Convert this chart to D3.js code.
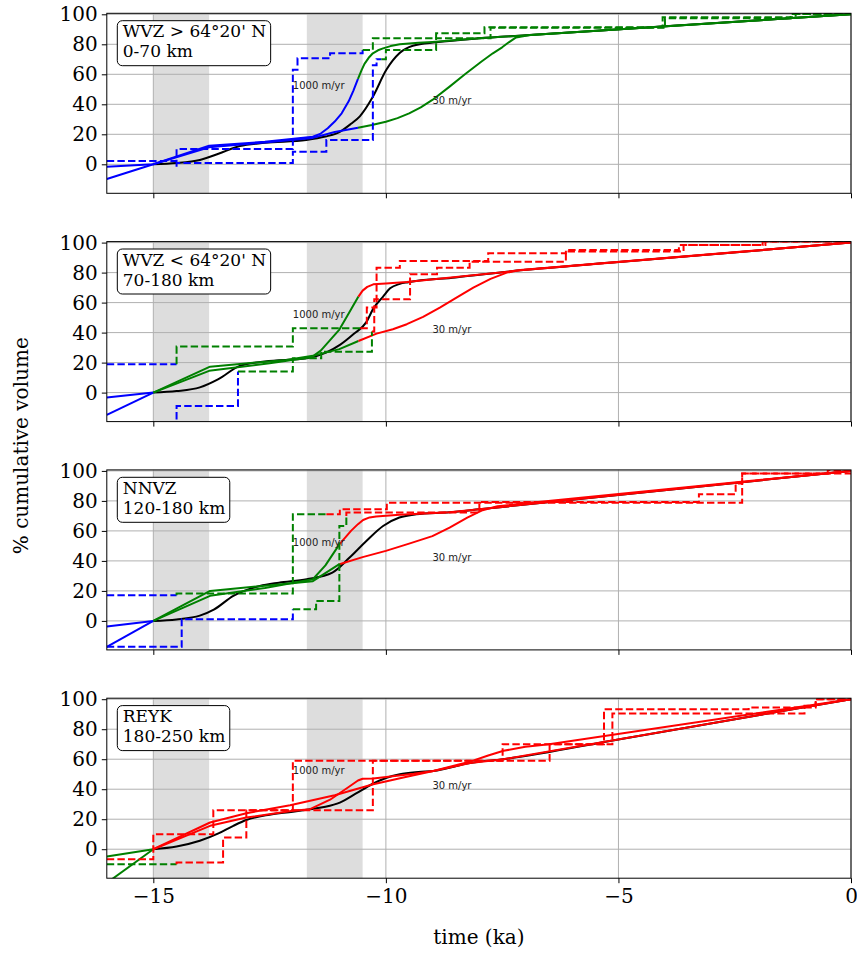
<!DOCTYPE html>
<html>
<head>
<meta charset="utf-8">
<script src="https://cdn.jsdelivr.net/npm/d3@7"></script>
<style>
  body { margin: 0; background: #fff; }
  svg { display: block; }
</style>
</head>
<body>
<svg id="chart" width="857" height="954"></svg>
<script>
// ---- axes ----
const xTickValues = [-15, -10, -5, 0];
const yTickValues = [0, 20, 40, 60, 80, 100];
const timeDomain = [-16, 0];
const volumeDomain = [-19.33, 100.67];
const deglaciationBands = [[-15, -13.8], [-11.7, -10.5]];

// ---- panel titles ----
const panelTitles = [
  ["WVZ > 64°20' N", "0-70 km"],
  ["WVZ < 64°20' N", "70-180 km"],
  ["NNVZ", "120-180 km"],
  ["REYK", "180-250 km"]
];
const rateLabels = ["1000 m/yr", "30 m/yr"];
const rateLabelAnchors = [[-12, 50], [-9, 40]];

// ---- WVZ > 64°20' N ----
const wvzNorthBlack = [[-15,0],[-14.5,0.8],[-14,2.9],[-13.6,7],[-13.14,12.2],[-12.6,14.3],[-11.71,16.2],[-11.3,18.5],[-11.0,21.5],[-10.75,27],[-10.56,32],[-10.28,45],[-9.99,63],[-9.71,74],[-9.42,79],[-8.92,81.3],[-8.0,84],[-7.0,86],[-4.0,92],[0,100]];
const wvzNorthFastBlue = [[-16,-9.8],[-15,0],[-13.8,12.4],[-12.6,15],[-11.57,18.4],[-11.4,20.5],[-11.25,24],[-11.1,28.5],[-10.95,34],[-10.8,42],[-10.7,49],[-10.6,57]];
const wvzNorthFastGreen = [[-10.6,57],[-10.52,63],[-10.46,67],[-10.37,71],[-10.28,74],[-10.17,76],[-10.06,77.3],[-9.9,78.8],[-9.7,80],[-9.3,81],[-9.0,81.6],[-8.0,84],[0,100]];
const wvzNorthSlowBlue = [[-16,-1.6],[-15,0],[-13.8,11.4],[-12.6,14.6],[-11.57,17.6],[-11.1,21.5],[-10.6,24.4]];
const wvzNorthSlowGreen = [[-10.6,24.4],[-10.3,26.2],[-10.0,28.4],[-9.75,30.8],[-9.5,34],[-9.25,38],[-9.0,42.9],[-8.63,51.8],[-8.3,60],[-7.95,68.4],[-7.7,74],[-7.5,78],[-7.35,81.5],[-7.2,84.6],[-6.9,86.2],[0,100]];
const wvzNorthStepABlue = [[-16,2.2],[-14.5,10.2],[-12.0,63],[-11.9,70.7],[-11.2,74],[-10.5,76.2]];
const wvzNorthStepAGreen = [[-10.5,76.2],[-10.28,84],[-8.92,87.3],[-7.88,91.3],[-4.05,98],[-1.19,100.2],[0,100.2]];
const wvzNorthStepBBlue = [[-14.5,-1.6],[-14.5,0.9],[-12.0,8.4],[-11.28,16.2],[-10.28,66],[-10.2,70],[-10.1,70]];
const wvzNorthStepBGreen = [[-10.1,70],[-10.0,76.2],[-8.92,84],[-7.75,91],[-4.0,97.4],[-1.3,100.2],[0,100.2]];

// ---- WVZ < 64°20' N ----
const wvzSouthBlack = [[-15,0],[-14.5,1],[-14,3.5],[-13.6,9],[-13.14,17.8],[-12.6,20.8],[-11.7,22.9],[-11.3,26.5],[-10.98,32],[-10.7,38.9],[-10.42,47],[-10.27,56],[-10.06,64],[-9.91,69.5],[-9.7,72.5],[-9.52,73.6],[-8.5,76.8],[-7.11,81.5],[-5.0,87],[0,100]];
const wvzSouthFastBlue = [[-16,-14.9],[-15,0]];
const wvzSouthFastGreen = [[-15,0],[-13.8,14.5],[-12.5,19.5],[-11.6,23.5],[-11.4,28],[-11.2,35],[-11.0,42],[-10.85,50],[-10.72,57],[-10.59,64]];
const wvzSouthFastRed = [[-10.59,64],[-10.5,68],[-10.4,70.5],[-10.27,72.2],[-10.0,72.8],[-9.55,73.8],[-7.11,81.5],[0,100]];
const wvzSouthSlowBlue = [[-16,-3.3],[-15,0]];
const wvzSouthSlowGreen = [[-15,0],[-13.78,17.3],[-12.14,21.8],[-11.57,24.5],[-11.0,29],[-10.59,34.4]];
const wvzSouthSlowRed = [[-10.59,34.4],[-10.2,39.3],[-9.85,42.2],[-9.55,45.6],[-9.2,50.5],[-8.84,56.7],[-8.5,63],[-8.12,70],[-7.75,75.8],[-7.4,80],[-7.11,81.8],[0,100]];
const wvzSouthStepABlue = [[-16,18.9],[-14.5,18.9]];
const wvzSouthStepAGreen = [[-14.5,18.9],[-14.5,30.7],[-12.0,42.9],[-10.55,42.9]];
const wvzSouthStepARed = [[-10.55,42.9],[-10.41,56.7],[-10.2,83.3],[-9.7,87.8],[-7.8,92.9],[-6.13,95.1],[-3.7,98.4],[-1.84,100.7],[0,100.7]];
const wvzSouthStepBBlue = [[-14.5,-25],[-14.5,-8.9],[-13.18,14]];
const wvzSouthStepBGreen = [[-13.18,14],[-12.0,22.9],[-11.39,27.3],[-10.3,40.7]];
const wvzSouthStepBRed = [[-10.3,40.7],[-10.25,62.2],[-9.48,78.9],[-8.9,83.3],[-8.2,87.3],[-6.13,94],[-3.6,98.4],[-1.9,100.7],[0,100.7]];

// ---- NNVZ ----
const nnvzBlack = [[-15,0],[-14.5,1],[-14,3.5],[-13.7,7.5],[-13.28,16.7],[-12.71,23.3],[-12.3,25.5],[-11.7,27.8],[-11.15,32.2],[-10.78,42.2],[-10.42,53.3],[-10.06,63.3],[-9.71,68.9],[-9.35,71.1],[-8.63,72.5],[-7.99,74.4],[-6.0,80.8],[0,100]];
const nnvzFastBlue = [[-16,-17.3],[-15,0]];
const nnvzFastGreen = [[-15,0],[-13.78,16.7],[-12.6,22],[-11.57,27.8],[-11.3,37],[-11.0,51]];
const nnvzFastRed = [[-11.0,51],[-10.75,60],[-10.6,64.5],[-10.49,67.3],[-10.35,69],[-10.21,69.6],[-9.71,70.7],[-8.63,72.5],[-7.99,74.4],[0,100]];
const nnvzSlowBlue = [[-16,-3.8],[-15,0]];
const nnvzSlowGreen = [[-15,0],[-13.78,20],[-12.6,23.5],[-11.57,26.5],[-11.0,37.8]];
const nnvzSlowRed = [[-11.0,37.8],[-10.5,42.5],[-10.0,46.7],[-9.5,51.5],[-9.0,56.5],[-8.63,62.2],[-8.25,68.8],[-7.92,73.8],[-7.6,76.5],[0,100]];
const nnvzStepABlue = [[-16,17.1],[-14.5,17.1]];
const nnvzStepAGreen = [[-14.5,17.1],[-14.5,18.2],[-12.0,71.1],[-11.28,71.1]];
const nnvzStepARed = [[-11.28,71.1],[-10.99,74.4],[-9.98,78.8],[-2.34,98.2],[-0.5,100.4],[0,100.4]];
const nnvzStepBBlue = [[-16,-17.3],[-14.39,1.1],[-12.0,7.8]];
const nnvzStepBGreen = [[-12.0,7.8],[-11.5,13.3],[-11.0,63.3],[-10.85,70]];
const nnvzStepBRed = [[-10.85,70],[-10.85,72.2],[-7.99,79.2],[-3.27,84.4],[-2.48,91.6],[-2.34,98.2],[0,100.4]];

// ---- REYK ----
const reykBlack = [[-15,0],[-14.5,1.8],[-14,5.6],[-13.6,10.5],[-13.28,15.6],[-13.0,19.5],[-12.5,23],[-12.0,25],[-11.63,26.7],[-11.3,28.3],[-10.99,31.1],[-10.65,37],[-10.3,43.3],[-10.0,47.5],[-9.7,50],[-9.3,51.5],[-8.98,52.2],[-8.19,57.5],[-7.47,60],[-5.0,73.2],[-2.0,89.3],[0,100]];
const reykFastGreen = [[-16,-22.5],[-15,0]];
const reykFastRed = [[-15,0],[-13.78,15.6],[-13.0,21.1],[-12.0,25.6],[-11.63,26.7],[-11.2,33],[-10.8,41.5],[-10.6,45.8],[-10.5,47],[-10.27,47.1],[-9.9,48.5],[-9.4,50.3],[-8.98,52.2],[-8.19,58.4],[-7.8,62.5],[-7.47,65.6],[-7.0,68.3],[-6.49,70],[0,100]];
const reykSlowGreen = [[-16,-4.9],[-15,0]];
const reykSlowRed = [[-15,0],[-13.78,17.8],[-13.0,24],[-12.06,29.3],[-11.1,36],[-10.27,43.3],[-9.6,48],[-8.98,52.2],[-8.19,57.5],[-7.47,60],[0,100]];
const reykStepARed = [[-16,-6.7],[-15,10],[-13.71,26],[-12.0,58.9],[-6.48,70],[-5.13,90.4],[-1.0,95.6],[-0.76,100],[0,100]];
const reykStepBGreen = [[-16,-10],[-14.5,-10]];
const reykStepBRed = [[-14.5,-10],[-14.5,-8.9],[-13.5,7.8],[-13.0,26],[-10.28,58.9],[-7.49,70],[-5.31,93.3],[-2.2,94.4],[-0.76,100],[0,100]];

const BLUE = "#0000ff", GREEN = "#008000", RED = "#ff0000";

const panels = [
  { title: panelTitles[0], black: wvzNorthBlack,
    solids: [[BLUE, wvzNorthFastBlue], [GREEN, wvzNorthFastGreen], [BLUE, wvzNorthSlowBlue], [GREEN, wvzNorthSlowGreen]],
    steps: [[BLUE, wvzNorthStepABlue], [GREEN, wvzNorthStepAGreen], [BLUE, wvzNorthStepBBlue], [GREEN, wvzNorthStepBGreen]] },
  { title: panelTitles[1], black: wvzSouthBlack,
    solids: [[BLUE, wvzSouthFastBlue], [GREEN, wvzSouthFastGreen], [RED, wvzSouthFastRed], [BLUE, wvzSouthSlowBlue], [GREEN, wvzSouthSlowGreen], [RED, wvzSouthSlowRed]],
    steps: [[BLUE, wvzSouthStepABlue], [GREEN, wvzSouthStepAGreen], [RED, wvzSouthStepARed], [BLUE, wvzSouthStepBBlue], [GREEN, wvzSouthStepBGreen], [RED, wvzSouthStepBRed]] },
  { title: panelTitles[2], black: nnvzBlack,
    solids: [[BLUE, nnvzFastBlue], [GREEN, nnvzFastGreen], [RED, nnvzFastRed], [BLUE, nnvzSlowBlue], [GREEN, nnvzSlowGreen], [RED, nnvzSlowRed]],
    steps: [[BLUE, nnvzStepABlue], [GREEN, nnvzStepAGreen], [RED, nnvzStepARed], [BLUE, nnvzStepBBlue], [GREEN, nnvzStepBGreen], [RED, nnvzStepBRed]] },
  { title: panelTitles[3], black: reykBlack,
    solids: [[GREEN, reykFastGreen], [RED, reykFastRed], [GREEN, reykSlowGreen], [RED, reykSlowRed]],
    steps: [[RED, reykStepARed], [GREEN, reykStepBGreen], [RED, reykStepBRed]] }
];

// ---- layout ----
const plotLeft = 106.8, plotRight = 851;
const firstTop = 13.3, panelPitch = 228.3, panelHeight = 180;
const serif = "'DejaVu Serif', 'Liberation Serif', serif";
const sans = "'DejaVu Sans', 'Liberation Sans', sans-serif";

const svg = d3.select("#chart");
const x = d3.scaleLinear().domain(timeDomain).range([plotLeft, plotRight]);

panels.forEach((p, i) => {
  const top = firstTop + i * panelPitch;
  const bottom = top + panelHeight;
  const y = d3.scaleLinear().domain(volumeDomain).range([bottom, top]);
  const g = svg.append("g");

  const clipId = "clip" + i;
  svg.append("clipPath").attr("id", clipId)
    .append("rect").attr("x", plotLeft).attr("y", top)
    .attr("width", plotRight - plotLeft).attr("height", panelHeight);

  // shaded deglaciation intervals
  g.selectAll("rect.band").data(deglaciationBands).join("rect")
    .attr("class", "band")
    .attr("x", d => x(d[0])).attr("width", d => x(d[1]) - x(d[0]))
    .attr("y", top).attr("height", panelHeight)
    .attr("fill", "#dddddd");

  // grid
  g.selectAll("line.vg").data(xTickValues).join("line")
    .attr("x1", d => x(d)).attr("x2", d => x(d))
    .attr("y1", top).attr("y2", bottom)
    .attr("stroke", "#b0b0b0").attr("stroke-width", 1);
  g.selectAll("line.hg").data(yTickValues).join("line")
    .attr("x1", plotLeft).attr("x2", plotRight)
    .attr("y1", d => y(d)).attr("y2", d => y(d))
    .attr("stroke", "#b0b0b0").attr("stroke-width", 1);

  const lines = g.append("g").attr("clip-path", `url(#${clipId})`);
  const smooth = d3.line().x(d => x(d[0])).y(d => y(d[1])).curve(d3.curveMonotoneX);
  const straight = d3.line().x(d => x(d[0])).y(d => y(d[1]));
  const stepped = d3.line().x(d => x(d[0])).y(d => y(d[1])).curve(d3.curveStepAfter);

  lines.append("path").attr("d", smooth(p.black))
    .attr("fill", "none").attr("stroke", "#000").attr("stroke-width", 2);

  p.solids.forEach(([color, pts]) => {
    lines.append("path").attr("d", straight(pts))
      .attr("fill", "none").attr("stroke", color).attr("stroke-width", 2)
      .attr("stroke-linejoin", "round");
  });
  p.steps.forEach(([color, pts]) => {
    lines.append("path").attr("d", stepped(pts))
      .attr("fill", "none").attr("stroke", color).attr("stroke-width", 2)
      .attr("stroke-dasharray", "7.4,3.2");
  });

  // rate annotations
  rateLabels.forEach((txt, k) => {
    g.append("text")
      .attr("x", x(rateLabelAnchors[k][0])).attr("y", y(rateLabelAnchors[k][1]))
      .attr("font-family", sans).attr("font-size", 10).attr("fill", "#222")
      .text(txt);
  });

  // spines
  g.append("rect").attr("x", plotLeft).attr("y", top)
    .attr("width", plotRight - plotLeft).attr("height", panelHeight)
    .attr("fill", "none").attr("stroke", "#000").attr("stroke-width", 1);

  // y axis
  const yAxis = g.append("g").attr("transform", `translate(${plotLeft},0)`)
    .call(d3.axisLeft(y).tickValues(yTickValues).tickSize(5).tickSizeOuter(0).tickPadding(4));
  yAxis.select(".domain").remove();
  yAxis.selectAll("text").attr("font-family", serif).attr("font-size", 20).attr("fill", "#000");

  // x axis
  const xAxis = g.append("g").attr("transform", `translate(0,${bottom})`)
    .call(d3.axisBottom(x).tickValues(xTickValues).tickSize(5).tickSizeOuter(0).tickPadding(6));
  xAxis.select(".domain").remove();
  if (i < panels.length - 1) xAxis.selectAll("text").remove();
  else xAxis.selectAll("text").attr("font-family", serif).attr("font-size", 20).attr("fill", "#000");

  // title box
  const tb = g.append("g");
  const t1 = tb.append("text").attr("x", plotLeft + 16).attr("y", top + 24)
    .attr("font-family", serif).attr("font-size", 17).text(p.title[0]);
  const t2 = tb.append("text").attr("x", plotLeft + 16).attr("y", top + 44)
    .attr("font-family", serif).attr("font-size", 17).text(p.title[1]);
  const tw = Math.max(t1.node().getComputedTextLength(), t2.node().getComputedTextLength());
  tb.insert("rect", "text")
    .attr("x", plotLeft + 10.5).attr("y", top + 7.4)
    .attr("width", tw + 10).attr("height", 45)
    .attr("rx", 5).attr("ry", 5)
    .attr("fill", "#fff").attr("stroke", "#000").attr("stroke-width", 1);
});

// axis titles
svg.append("text")
  .attr("x", (plotLeft + plotRight) / 2).attr("y", 944)
  .attr("text-anchor", "middle").attr("font-family", serif).attr("font-size", 20)
  .text("time (ka)");
svg.append("text")
  .attr("transform", `translate(28,${(firstTop + firstTop + 3 * panelPitch + panelHeight) / 2}) rotate(-90)`)
  .attr("text-anchor", "middle").attr("font-family", serif).attr("font-size", 20)
  .text("% cumulative volume");
</script>
</body>
</html>
